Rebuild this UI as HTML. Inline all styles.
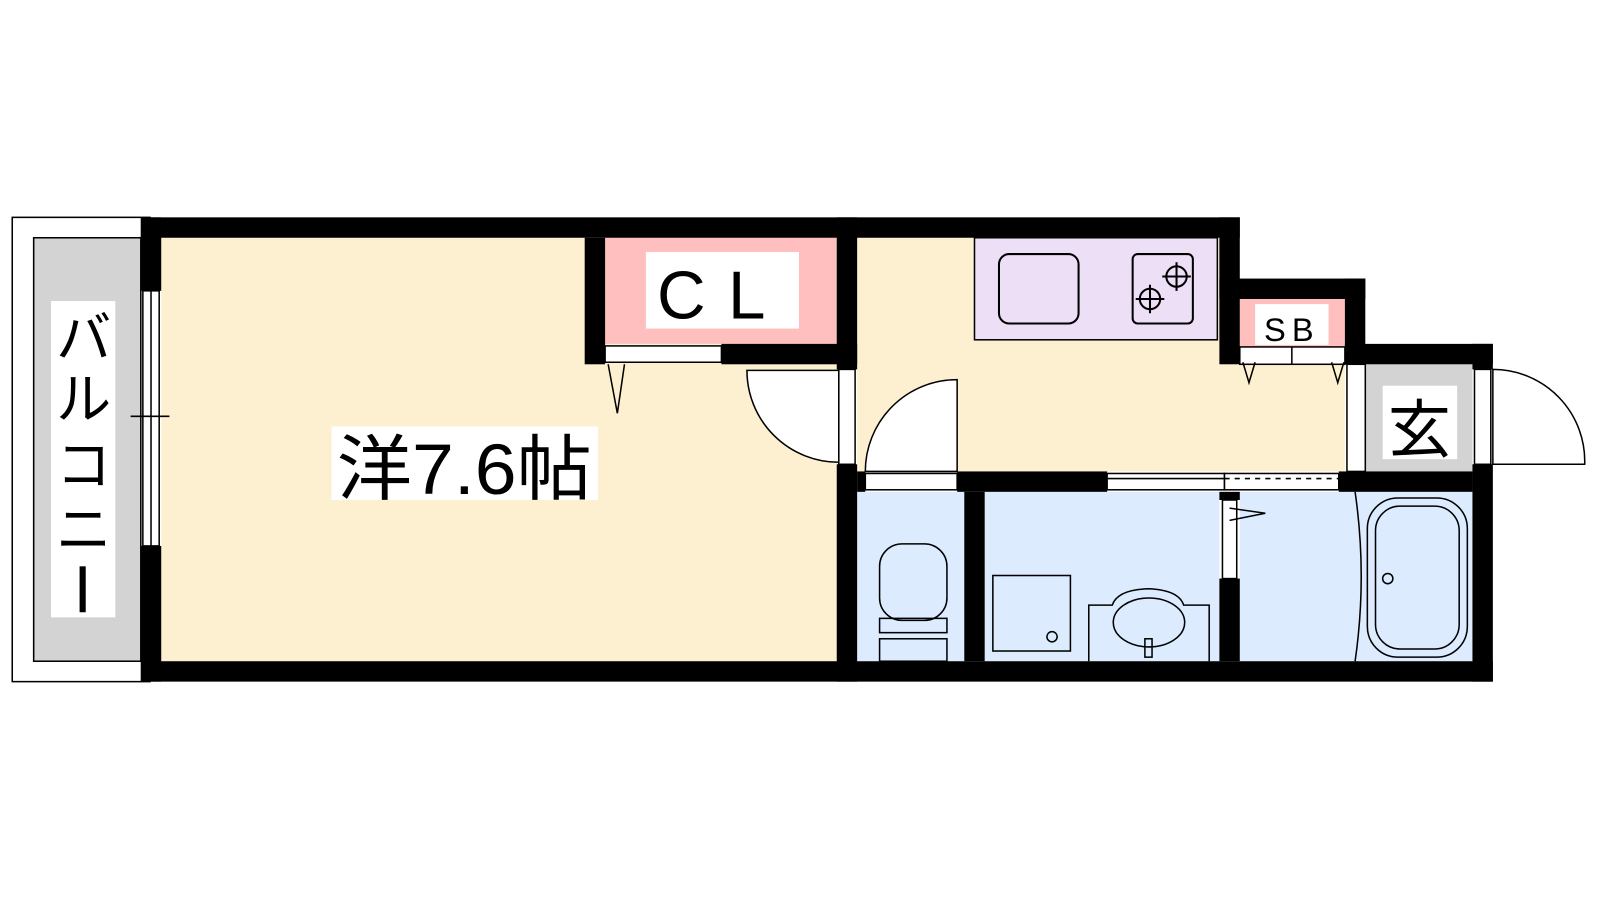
<!DOCTYPE html>
<html><head><meta charset="utf-8"><style>
html,body{margin:0;padding:0;background:#fff;width:1600px;height:900px;overflow:hidden}
svg{display:block}
text{font-family:"Liberation Sans","Noto Sans CJK JP",sans-serif}
</style></head><body>
<svg width="1600" height="900" viewBox="0 0 1568 882" preserveAspectRatio="none" xmlns="http://www.w3.org/2000/svg">
<!-- balcony -->
<rect x="12" y="213" width="135" height="455" fill="#fff" stroke="#000" stroke-width="1.5"/>
<rect x="33" y="233" width="105" height="415" fill="#d3d3d3" stroke="#000" stroke-width="1.5"/>
<rect x="50" y="295" width="63" height="310" fill="#fff"/>
<text x="82" y="350" font-size="54" text-anchor="middle">バ</text>
<text x="82" y="410" font-size="54" text-anchor="middle">ル</text>
<text x="82" y="475" font-size="54" text-anchor="middle">コ</text>
<text x="82" y="538" font-size="54" text-anchor="middle">ニ</text>
<rect x="78" y="555" width="6" height="45" fill="#000"/>
<!-- floors -->
<rect x="158" y="233" width="662" height="415" fill="#fdf0d0"/>
<rect x="840" y="233" width="355" height="229" fill="#fdf0d0"/>
<rect x="1195" y="357" width="123" height="105" fill="#fdf0d0"/>
<rect x="593" y="233" width="227" height="104" fill="#ffbfbf"/>
<rect x="633" y="247" width="150" height="75" fill="#fff"/>
<text x="708" y="312" font-size="66" text-anchor="middle" letter-spacing="22">CL</text>
<rect x="955" y="233" width="238" height="100" fill="#eddff5" stroke="#000" stroke-width="1.5"/>
<rect x="979" y="249" width="78" height="68" rx="10" fill="none" stroke="#000" stroke-width="2"/>
<rect x="1110" y="249" width="59" height="68" rx="5" fill="none" stroke="#000" stroke-width="2"/>
<g fill="none" stroke="#000" stroke-width="2">
<circle cx="1153" cy="271" r="10"/><path d="M1153 257v28M1139 271h28"/>
<circle cx="1127" cy="293" r="10"/><path d="M1127 279v28M1113 293h28"/>
</g>
<rect x="1215" y="293" width="103" height="47" fill="#ffbfbf"/>
<rect x="1230" y="298" width="72" height="40" fill="#fff"/>
<text x="1266" y="334" font-size="32" text-anchor="middle" letter-spacing="6">SB</text>
<rect x="1338" y="357" width="105" height="105" fill="#d3d3d3"/>
<rect x="1355" y="378" width="73" height="72" fill="#fff"/>
<text x="1391" y="443" font-size="62" text-anchor="middle">玄</text>
<rect x="840" y="482" width="105" height="166" fill="#dcebfd"/>
<rect x="965" y="482" width="230" height="166" fill="#dcebfd"/>
<rect x="1215" y="482" width="228" height="166" fill="#dcebfd"/>
<!-- room label -->
<rect x="325" y="418" width="261" height="72" fill="#fff"/>
<text x="455" y="484" font-size="70" text-anchor="middle" textLength="250" lengthAdjust="spacingAndGlyphs">洋7.6帖</text>
<!-- walls -->
<g fill="#000">
<rect x="138" y="213" width="1077" height="20"/>
<rect x="138" y="213" width="20" height="72"/>
<rect x="138" y="535" width="20" height="133"/>
<rect x="138" y="648" width="1325" height="20"/>
<rect x="573" y="233" width="20" height="124"/>
<rect x="707" y="337" width="133" height="20"/>
<rect x="820" y="213" width="20" height="149"/>
<rect x="820" y="455" width="20" height="213"/>
<rect x="1195" y="213" width="20" height="144"/>
<rect x="1195" y="273" width="143" height="20"/>
<rect x="1318" y="273" width="20" height="84"/>
<rect x="1318" y="337" width="145" height="20"/>
<rect x="1443" y="337" width="20" height="25"/>
<rect x="1443" y="455" width="20" height="213"/>
<rect x="840" y="462" width="8" height="20"/>
<rect x="938" y="462" width="147" height="20"/>
<rect x="1312" y="462" width="131" height="20"/>
<rect x="945" y="482" width="20" height="166"/>
<rect x="1195" y="482" width="20" height="8"/>
<rect x="1195" y="567" width="20" height="81"/>
</g>
<!-- window & doors -->
<g fill="#fff" stroke="#000" stroke-width="1.5">
<rect x="140" y="285" width="16" height="250"/>
<rect x="593" y="339" width="114" height="16"/>
<rect x="822" y="362" width="16" height="93"/>
<rect x="848" y="464" width="90" height="16"/>
<rect x="1085" y="464" width="115" height="16"/>
<rect x="1200" y="464" width="112" height="16"/>
<rect x="1198" y="490" width="14" height="77"/>
<rect x="1320" y="357" width="18" height="105"/>
<rect x="1445" y="362" width="16" height="93"/>
<rect x="1215" y="340" width="103" height="17"/>
<path d="M822 363 L732 363 A90 90 0 0 0 822 453 Z"/>
<path d="M938 372 L938 462 L848 462 A90 90 0 0 1 938 372 Z"/>
<path d="M1463 362 A90 90 0 0 1 1553 455 L1463 455 Z"/>
</g>
<g fill="none" stroke="#000" stroke-width="1.5">
<line x1="148" y1="285" x2="148" y2="535"/>
<line x1="128" y1="408" x2="166" y2="408"/>
<line x1="1085" y1="469" x2="1200" y2="469"/>
<line x1="1200" y1="469" x2="1312" y2="469" stroke-dasharray="5,5"/>
<line x1="1266" y1="340" x2="1266" y2="357"/>
<path d="M596 357 L605 405 L612 357"/>
<path d="M1218 355 L1224 375 L1230 355"/>
<path d="M1305 355 L1311 375 L1317 355"/>
<path d="M1205 510 L1240 503 L1205 498"/>
<rect x="862" y="533" width="66" height="75" rx="22"/>
<rect x="862" y="606" width="66" height="14"/>
<rect x="862" y="626" width="66" height="22"/>
<rect x="973" y="564" width="76" height="74"/>
<circle cx="1031" cy="624" r="5"/>
<path d="M1067 648 L1067 593 L1090 593 Q1095 578 1125 577 Q1155 578 1160 593 L1185 593 L1185 648"/>
<ellipse cx="1126" cy="610" rx="35" ry="24"/>
<rect x="1122" y="626" width="7" height="18"/>
<rect x="1340" y="488" width="98" height="156" rx="30"/>
<rect x="1348" y="496" width="82" height="140" rx="24"/>
<circle cx="1360" cy="567" r="5"/>
<path d="M1328 482 Q1340 565 1328 648"/>
</g>
</svg>
</body></html>
